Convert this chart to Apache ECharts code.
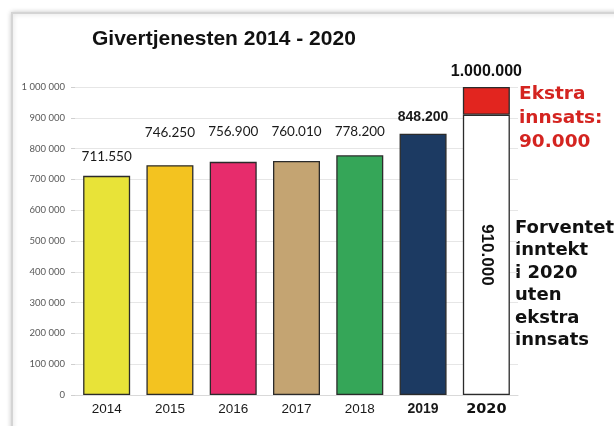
<!DOCTYPE html>
<html>
<head>
<meta charset="utf-8">
<script src="https://cdn.jsdelivr.net/npm/echarts@6/dist/echarts.min.js"></script>
<style>
html,body{margin:0;padding:0;background:#fff;}
#c{width:614px;height:426px;}
</style>
</head>
<body>
<div id="c"></div>
<script>
const years = ['2014', '2015', '2016', '2017', '2018', '2019', '2020'];
const amounts = [711550, 746250, 756900, 760010, 778200, 848200, 910000];
const extra = [null, null, null, null, null, null, 90000];
const titleText = 'Givertjenesten 2014 - 2020';
const extraNote = ['Ekstra', 'innsats:', '90.000'];
const expectedNote = ['Forventet', 'inntekt', 'i 2020', 'uten', 'ekstra', 'innsats'];

const barColors = ['#e8e338', '#f3c320', '#e72c6c', '#c4a472', '#35a658', '#1c3a62', '#ffffff'];
const labelDist = [12, 26, 23, 22, 17, 10, 0];
const fmtDots = v => String(v).replace(/\B(?=(\d{3})+(?!\d))/g, '.');
const fmtSpaces = v => String(v).replace(/\B(?=(\d{3})+(?!\d))/g, ' ');

const baseData = amounts.map((v, i) => {
  const item = {
    value: v,
    itemStyle: { color: barColors[i] },
    label: {
      show: true,
      position: 'top',
      distance: labelDist[i],
      formatter: fmtDots(v),
      fontFamily: 'Lato',
      fontSize: 13.5,
      color: '#1a1a1a'
    }
  };
  if (i === 5) {
    item.label.fontWeight = 'bold';
    item.label.fontFamily = 'Liberation Sans';
    item.label.fontSize = 14;
  }
  if (i === 6) {
    item.label = {
      show: true,
      position: 'inside',
      rotate: -90,
      formatter: fmtDots(v),
      fontFamily: 'Liberation Sans',
      fontWeight: 'bold',
      fontSize: 17,
      color: '#111'
    };
  }
  return item;
});

const chart = echarts.init(document.getElementById('c'), null, { renderer: 'canvas' });
chart.setOption({
  animation: false,
  backgroundColor: '#ffffff',
  title: {
    text: titleText,
    left: 87,
    top: 24,
    textStyle: { fontFamily: 'Liberation Sans', fontWeight: 'bold', fontSize: 21, color: '#111' }
  },
  grid: { left: 75, right: 96, top: 87, bottom: 31 },
  xAxis: {
    type: 'category',
    data: years,
    axisLine: { show: true, lineStyle: { color: '#d9d9d9', width: 1 } },
    axisTick: { show: false },
    axisLabel: {
      margin: 7,
      formatter: (v, i) => i === 6 ? '{h|' + v + '}' : (i === 5 ? '{b|' + v + '}' : '{n|' + v + '}'),
      rich: {
        n: { fontFamily: 'Liberation Sans', fontSize: 13.5, color: '#1a1a1a' },
        b: { fontFamily: 'Liberation Sans', fontWeight: 'bold', fontSize: 14, color: '#1a1a1a' },
        h: { fontFamily: 'DejaVu Sans', fontWeight: 'bold', fontSize: 14.5, color: '#111' }
      }
    }
  },
  yAxis: {
    type: 'value',
    min: 0,
    max: 1000000,
    interval: 100000,
    axisLine: { show: false },
    axisTick: { show: true, length: 4, lineStyle: { color: '#cfcfcf' } },
    splitLine: { show: true, lineStyle: { color: '#e6e6e6', width: 1 } },
    axisLabel: {
      margin: 10,
      formatter: v => fmtSpaces(v),
      fontFamily: 'Lato',
      fontSize: 9.5,
      color: '#595959'
    }
  },
  series: [
    {
      type: 'bar',
      stack: 'total',
      barWidth: 47,
      data: baseData,
      itemStyle: { borderColor: '#2b2b2b', borderWidth: 1.3 }
    },
    {
      type: 'bar',
      stack: 'total',
      barWidth: 47,
      data: extra,
      itemStyle: { color: '#e2251f', borderColor: '#2b2b2b', borderWidth: 1.3 },
      label: {
        show: true,
        position: 'top',
        distance: 7,
        formatter: p => fmtDots(amounts[p.dataIndex] + p.value),
        fontFamily: 'Liberation Sans',
        fontWeight: 'bold',
        fontSize: 16,
        color: '#111'
      }
    }
  ],
  graphic: [
    {
      type: 'rect',
      z: -10,
      silent: true,
      shape: { x: 12, y: 13, width: 640, height: 450 },
      style: { fill: '#ffffff', stroke: '#d4d4d4', lineWidth: 2, shadowBlur: 5, shadowColor: 'rgba(0,0,0,0.18)' }
    },
    {
      type: 'text',
      left: 519,
      top: 82,
      style: {
        text: extraNote.join('\n'),
        font: 'bold 18.5px "DejaVu Sans"',
        fill: '#d42420',
        lineHeight: 24
      }
    },
    {
      type: 'text',
      left: 515,
      top: 217,
      style: {
        text: expectedNote.join('\n'),
        font: 'bold 18px "DejaVu Sans"',
        fill: '#111',
        lineHeight: 22.5
      }
    }
  ]
});
</script>
</body>
</html>
